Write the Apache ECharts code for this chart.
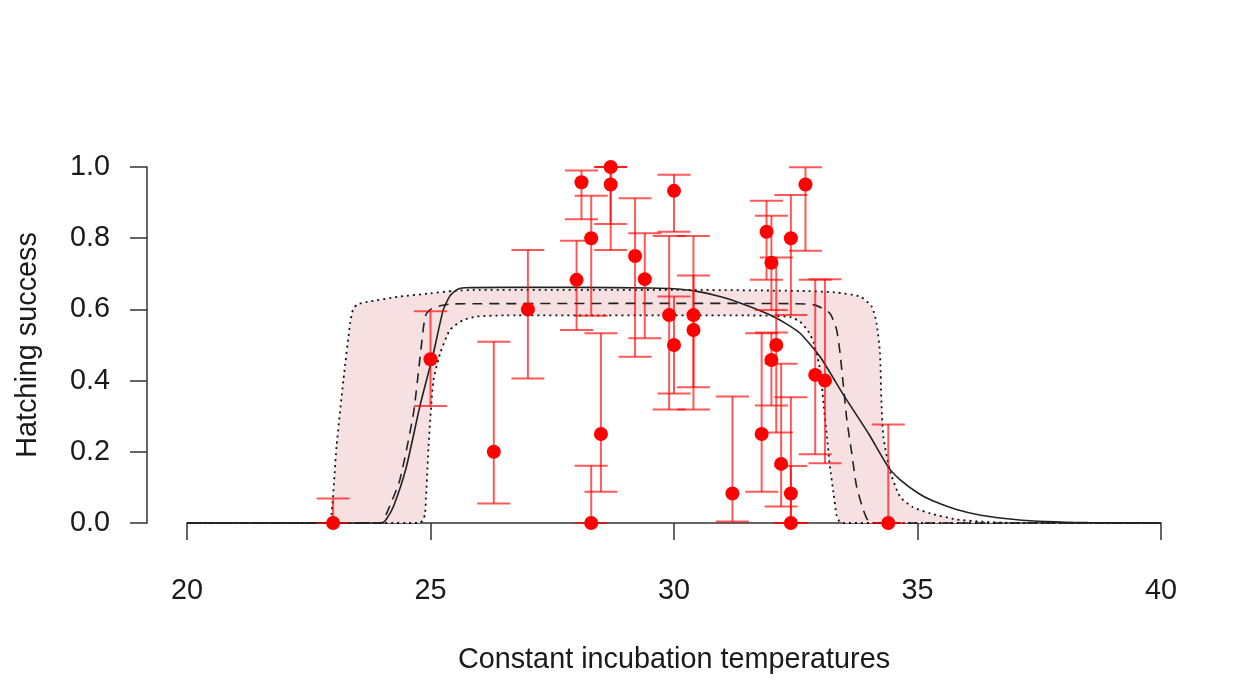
<!DOCTYPE html>
<html>
<head>
<meta charset="utf-8">
<script src="https://cdn.jsdelivr.net/npm/echarts@6/dist/echarts.min.js"></script>
<style>
html,body{margin:0;padding:0;background:#fff;}
#chart{width:1237px;height:688px;}
</style>
</head>
<body>
<div id="chart"></div>
<script>
// Observed hatching success: temperature, value, lower CI, upper CI
var temps  = [23.0, 25.0, 26.3, 27.0, 28.0, 28.1, 28.3, 28.3, 28.5, 28.7, 28.7, 29.2, 29.4, 29.9, 30.0, 30.0, 30.4, 30.4, 31.2, 31.8, 31.9, 32.0, 32.0, 32.1, 32.2, 32.4, 32.4, 32.4, 32.7, 32.9, 33.1, 34.4];
var success= [0.0, 0.46, 0.2, 0.6, 0.683, 0.957, 0.8, 0.0, 0.25, 1.0, 0.951, 0.75, 0.685, 0.584, 0.933, 0.5, 0.584, 0.542, 0.083, 0.25, 0.818, 0.731, 0.458, 0.5, 0.166, 0.8, 0.083, 0.0, 0.951, 0.416, 0.4, 0.0];
var lowerCI= [0.0, 0.329, 0.055, 0.406, 0.542, 0.853, 0.582, 0.0, 0.088, 0.84, 0.767, 0.467, 0.519, 0.319, 0.818, 0.364, 0.319, 0.381, 0.004, 0.088, 0.683, 0.598, 0.33, 0.254, 0.046, 0.584, 0.0, 0.0, 0.765, 0.193, 0.168, 0.0];
var upperCI= [0.069, 0.595, 0.509, 0.767, 0.793, 0.99, 0.919, 0.161, 0.533, 1.0, 1.0, 0.912, 0.814, 0.806, 0.978, 0.636, 0.806, 0.695, 0.355, 0.533, 0.905, 0.863, 0.535, 0.746, 0.447, 0.921, 0.353, 0.16, 0.999, 0.683, 0.685, 0.277];

// Fitted curve (solid)
var fitCurve = [[20,0],[24.0,0],[24.1,0.012],[24.25,0.05],[24.5,0.155],[24.78,0.327],[25.06,0.477],[25.26,0.598],[25.4,0.638],[25.55,0.656],[25.7,0.661],[26.5,0.662],[28,0.662],[29.5,0.66],[30.0,0.658],[30.5,0.65],[31.0,0.634],[31.4,0.616],[32.0,0.583],[32.3,0.56],[32.59,0.533],[33.0,0.467],[33.48,0.36],[34.0,0.25],[34.4,0.157],[34.64,0.122],[35.0,0.085],[35.3,0.063],[35.8,0.038],[36.3,0.022],[37.0,0.01],[37.65,0.004],[38.5,0.001],[40,0]];
// Mean curve (dashed)
var meanCurve = [[20,0],[24.0,0],[24.1,0.027],[24.37,0.121],[24.65,0.308],[24.78,0.458],[24.89,0.58],[25.0,0.6],[25.2,0.61],[25.4,0.615],[26,0.616],[30,0.617],[32.5,0.616],[32.9,0.612],[33.2,0.589],[33.34,0.542],[33.41,0.477],[33.48,0.383],[33.55,0.289],[33.65,0.196],[33.75,0.102],[33.89,0.036],[34.0,0.004],[34.2,0],[40,0]];
// Upper confidence limit (dotted)
var upperCurve = [[20,0],[22.9,0],[22.97,0.027],[23.07,0.214],[23.21,0.4],[23.35,0.561],[23.41,0.6],[23.5,0.614],[23.7,0.621],[24.37,0.636],[25.0,0.645],[25.47,0.652],[26,0.655],[30,0.655],[32.59,0.652],[33.3,0.648],[33.82,0.636],[34.06,0.608],[34.16,0.561],[34.23,0.477],[34.26,0.336],[34.3,0.242],[34.43,0.149],[34.64,0.074],[34.9,0.045],[35.26,0.027],[35.8,0.01],[36.3,0.004],[37,0],[40,0]];
// Lower confidence limit (dotted)
var lowerCurve = [[20,0],[24.78,0],[24.85,0.01],[24.89,0.027],[24.96,0.214],[25.06,0.4],[25.2,0.477],[25.4,0.542],[25.67,0.57],[25.95,0.58],[26.5,0.583],[31.5,0.583],[32.0,0.582],[32.4,0.578],[32.59,0.565],[32.75,0.54],[32.86,0.51],[33.0,0.43],[33.07,0.336],[33.14,0.242],[33.2,0.16],[33.28,0.08],[33.34,0.02],[33.4,0.004],[33.5,0],[40,0]];

var xTicks = [20, 25, 30, 35, 40];
var yTicks = [0.0, 0.2, 0.4, 0.6, 0.8, 1.0];

var font = '"Liberation Sans", Arial, Helvetica, sans-serif';
var chart = echarts.init(document.getElementById('chart'), null, {renderer: 'canvas'});

var errData = temps.map(function (t, i) { return [t, lowerCI[i], upperCI[i]]; });
var ptData = temps.map(function (t, i) { return [t, success[i]]; });

var bandPoly = upperCurve.concat(lowerCurve.slice().reverse());

var option = {
  backgroundColor: '#ffffff',
  animation: false,
  grid: {left: 187, right: 76, top: 167, bottom: 165, containLabel: false},
  xAxis: {
    type: 'value', min: xTicks[0], max: xTicks[xTicks.length - 1], interval: 5,
    offset: 15,
    name: 'Constant incubation temperatures', nameLocation: 'middle', nameGap: 108,
    nameTextStyle: {fontFamily: font, fontSize: 28.8, color: '#1a1a1a'},
    axisLine: {show: true, lineStyle: {color: '#333', width: 1.5}},
    axisTick: {show: true, length: 17, inside: false, lineStyle: {color: '#333', width: 1.5}},
    axisLabel: {fontFamily: font, fontSize: 28.8, color: '#1a1a1a', margin: 39, showMinLabel: true, showMaxLabel: true},
    splitLine: {show: false}
  },
  yAxis: {
    type: 'value', min: yTicks[0], max: yTicks[yTicks.length - 1], interval: 0.2,
    offset: 40,
    name: 'Hatching success', nameLocation: 'middle', nameGap: 104, nameRotate: 90,
    nameTextStyle: {fontFamily: font, fontSize: 28.8, color: '#1a1a1a'},
    axisLine: {show: true, lineStyle: {color: '#333', width: 1.5}},
    axisTick: {show: true, length: 17, inside: false, lineStyle: {color: '#333', width: 1.5}},
    axisLabel: {fontFamily: font, fontSize: 28.8, color: '#1a1a1a', margin: 37,
      formatter: function (v) { return v.toFixed(1); }},
    splitLine: {show: false}
  },
  series: [
    {
      type: 'custom', z: 1, silent: true,
      data: [[0]],
      renderItem: function (params, api) {
        var pts = bandPoly.map(function (p) { return api.coord(p); });
        return {type: 'polygon', shape: {points: pts}, style: {fill: '#f6e0e1', stroke: null}};
      }
    },
    {
      type: 'line', z: 2, data: lowerCurve, showSymbol: false, clip: false, smooth: 0.2,
      lineStyle: {color: '#111', width: 1.8, type: [2, 4]}
    },
    {
      type: 'line', z: 2, data: upperCurve, showSymbol: false, clip: false, smooth: 0.2,
      lineStyle: {color: '#111', width: 1.8, type: [2, 4]}
    },
    {
      type: 'line', z: 2, data: meanCurve, showSymbol: false, clip: false, smooth: 0.2,
      lineStyle: {color: '#222', width: 1.6, type: [10, 7]}
    },
    {
      type: 'line', z: 2, data: fitCurve, showSymbol: false, clip: false, smooth: 0.2,
      lineStyle: {color: '#222', width: 1.6, type: 'solid'}
    },
    {
      type: 'custom', z: 3, silent: true,
      data: errData,
      renderItem: function (params, api) {
        var x = api.value(0), lo = api.value(1), hi = api.value(2);
        var pLo = api.coord([x, lo]);
        var pHi = api.coord([x, hi]);
        var hw = 16.5;
        var st = {stroke: 'rgba(255,0,0,0.65)', lineWidth: 2};
        return {
          type: 'group',
          children: [
            {type: 'line', shape: {x1: pLo[0], y1: pLo[1], x2: pHi[0], y2: pHi[1]}, style: st},
            {type: 'line', shape: {x1: pLo[0] - hw, y1: pLo[1], x2: pLo[0] + hw, y2: pLo[1]}, style: st},
            {type: 'line', shape: {x1: pHi[0] - hw, y1: pHi[1], x2: pHi[0] + hw, y2: pHi[1]}, style: st}
          ]
        };
      }
    },
    {
      type: 'scatter', z: 4, data: ptData, symbol: 'circle', symbolSize: 14, clip: false,
      itemStyle: {color: '#ff0000', opacity: 1}
    }
  ]
};
chart.setOption(option);
</script>
</body>
</html>
